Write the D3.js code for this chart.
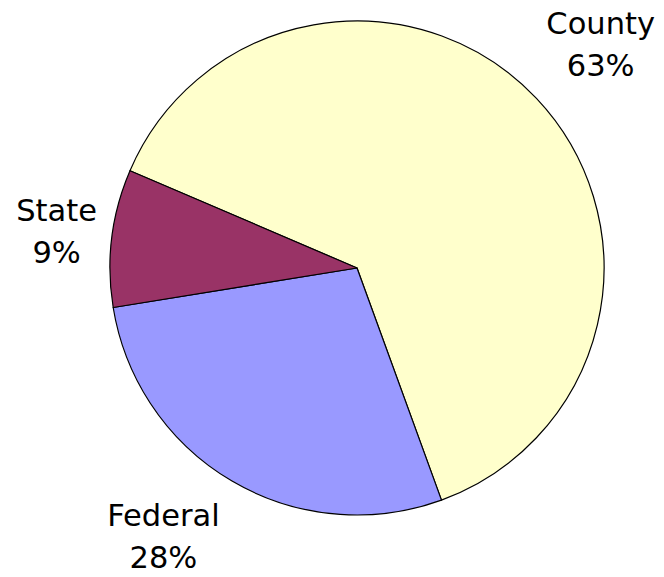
<!DOCTYPE html>
<html>
<head>
    <meta charset="utf-8">
    <style>
        body {
            margin: 0;
            background: #fff;
        }

        svg {
            display: block;
        }

        .label text {
            font-family: "DejaVu Sans", Verdana, sans-serif;
            font-size: 30.5px;
            fill: #000;
        }
    </style>
</head>
<body>
    <svg width="664" height="577"></svg>

<script src="https://d3js.org/d3.v7.min.js"></script>
<script>
    // data
    let categories = ["County", "Federal", "State"];
    let shares = [63, 28, 9];
    let colors = ["#FFFFCC", "#9999FF", "#993366"];

    let cx = 357, cy = 268;
    let radius = 247;

    let svg = d3.select("svg");

    let data = categories.map((c, i) => ({ name: c, value: shares[i], color: colors[i] }));

    // first slice starts up-left and runs clockwise
    let start = -66.8 * Math.PI / 180;

    let pie = d3.pie()
        .sort(null)
        .value(d => d.value)
        .startAngle(start)
        .endAngle(start + 2 * Math.PI);

    let arc = d3.arc()
        .innerRadius(0)
        .outerRadius(radius);

    let g = svg.append("g")
        .attr("transform", `translate(${cx},${cy})`);

    let arcs = pie(data);

    g.selectAll(".slice")
        .data(arcs)
        .join("path")
        .attr("class", "slice")
        .attr("d", arc)
        .attr("fill", d => d.data.color)
        .attr("stroke", "#000")
        .attr("stroke-width", 1.2)
        .attr("stroke-linejoin", "round");

    // labels sit just outside the pie, along each slice's middle angle
    let lineGap = 42;
    let gap = 15;
    // a couple of labels were dragged a little in the original
    let nudge = { Federal: [-28, 0], County: [-1, -4] };

    let labels = g.selectAll(".label")
        .data(arcs)
        .join("g")
        .attr("class", "label");

    labels.append("text")
        .attr("text-anchor", "middle")
        .attr("y", -lineGap / 2)
        .attr("dy", "0.36em")
        .text(d => d.data.name);

    labels.append("text")
        .attr("text-anchor", "middle")
        .attr("y", lineGap / 2)
        .attr("dy", "0.36em")
        .text(d => d.data.value + "%");

    labels.attr("transform", function (d) {
        let w = this.getBBox().width;
        let h = lineGap * 2;
        let a = (d.startAngle + d.endAngle) / 2;
        let ux = Math.sin(a), uy = -Math.cos(a);
        let m = Math.max(Math.abs(ux), Math.abs(uy));
        let px = ux * (radius + gap), py = uy * (radius + gap);
        let n = nudge[d.data.name] || [0, 0];
        let x = px + ux / m * w / 2 + n[0];
        let y = py + uy / m * h / 2 + n[1];
        return `translate(${x},${y})`;
    });
</script>
</body>
</html>
